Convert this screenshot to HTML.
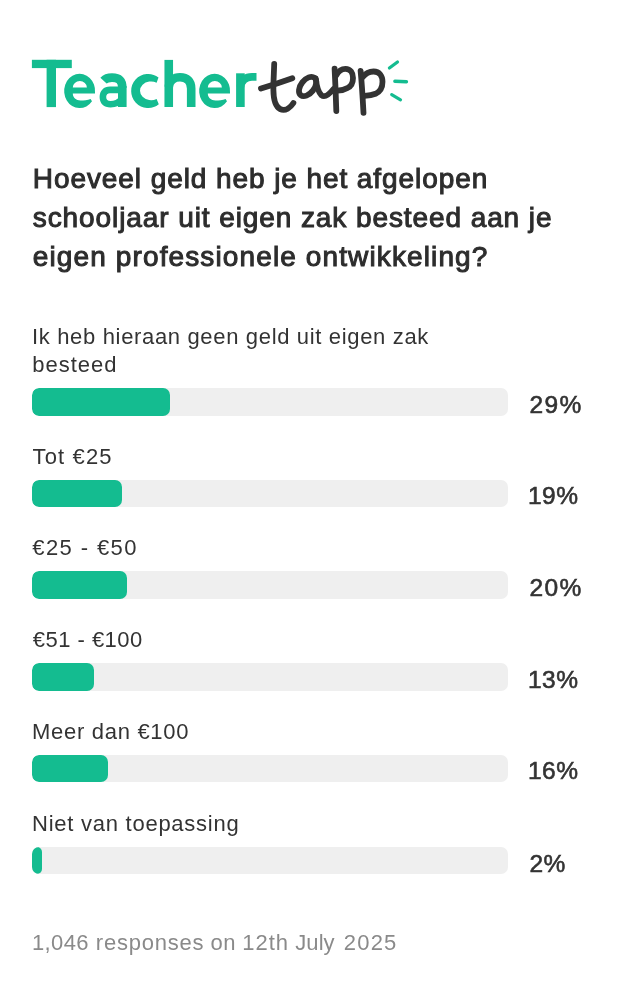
<!DOCTYPE html>
<html>
<head>
<meta charset="utf-8">
<style>
html,body{margin:0;padding:0;background:#fff;}
body{width:640px;height:992px;position:relative;overflow:hidden;font-family:"Liberation Sans",sans-serif;color:#333;}
.abs{position:absolute;white-space:nowrap;}
#w{position:absolute;left:0;top:0;width:640px;height:992px;will-change:transform;}
.q{left:32px;top:159px;font-size:28px;line-height:39px;color:#2d2d2d;-webkit-text-stroke:1px #2d2d2d;letter-spacing:0.75px;}
.lbl{left:32px;font-size:22px;line-height:27.5px;letter-spacing:0.57px;color:#333;}
.track{position:absolute;left:32px;width:475.5px;height:27.5px;border-radius:7px;background:#efefef;overflow:hidden;}
.fill{position:absolute;left:0;top:0;height:100%;border-radius:7px;background:#14bc90;}
.pct{left:528px;font-size:24.5px;line-height:30px;color:#333;-webkit-text-stroke:0.6px #333;letter-spacing:0.45px;}
.foot{left:32px;font-size:22px;line-height:27px;letter-spacing:0.64px;color:#8a8a8a;}
</style>
</head>
<body>
<div id="w">
<svg class="abs" style="left:0;top:0" width="640" height="140" viewBox="0 0 640 140">
<g fill="#14bc90">
<rect x="31.9" y="59.8" width="39.9" height="8.3"/>
<rect x="46.6" y="59.8" width="9.4" height="47.3"/>
<path fill-rule="evenodd" transform="translate(0 0)" d="M95 92.6 A15.45 17.2 0 1 0 92 101.2 L90.6 98.9 C87.5 100.3 84 100.6 80.5 100.6 C76 100.6 72.8 97.6 72.8 93.6 L72.8 93.6 L95 93.6 Z M72.8 87.4 L86.9 87.4 A7.05 6.3 0 0 0 72.8 87.4 Z"/>
<path fill-rule="evenodd" transform="translate(135 0)" d="M95 92.6 A15.45 17.2 0 1 0 92 101.2 L90.6 98.9 C87.5 100.3 84 100.6 80.5 100.6 C76 100.6 72.8 97.6 72.8 93.6 L72.8 93.6 L95 93.6 Z M72.8 87.4 L86.9 87.4 A7.05 6.3 0 0 0 72.8 87.4 Z"/>
<path d="M158.5 77.4 A17 17.05 0 1 0 158.8 104.25 L156.6 98.9 A11 9.4 0 1 1 156.6 82.7 Z"/>
</g>
<g fill="none" stroke="#14bc90" stroke-width="8.6">

<path d="M122.3 86 L122.3 107"/>
<path d="M103.5 80.6 C105.5 78.5 108.5 77.6 112 77.6 C118.5 77.6 122.3 80.5 122.3 88"/>
<path d="M122.3 89.9 L110 89.9 C105.5 89.9 102.9 92.5 102.9 97.1 C102.9 101.7 105.5 104.3 110.5 104.3 C115.5 104.3 119.5 102 122.3 98.5" stroke-width="6.6"/>

<path d="M168.75 59.9 L168.75 107"/>
<path d="M168.75 87 C169.5 80.5 174 77.3 180 77.3 C187 77.3 191.2 81 191.2 88.5 L191.2 107"/>

<path d="M240.4 73.3 L240.4 107"/>
<path d="M240.4 87 C241.5 80 246 76.9 252 76.9 L256.5 76.9" stroke-width="7.7"/>
</g>
</svg>
<svg class="abs" style="left:0;top:0" width="640" height="140" viewBox="0 0 640 140">
<g fill="none" stroke="#333" stroke-width="5.8" stroke-linecap="round" stroke-linejoin="round">
<path d="M274.2 64 C274 72 273.3 82 273.4 90 C273.5 100 275.5 106.5 280 109 C285.5 111.5 290.5 107.5 293.4 103"/>
<path d="M261 88.6 C270 85.8 283 81.5 292.3 78.2"/>
<ellipse cx="307.6" cy="86.5" rx="11.1" ry="6.7" transform="rotate(-52 307.6 86.5)"/>
<path d="M315.8 78.5 C316.5 85 318 92 321.5 95.3 C325 98 329.5 94 333.5 89"/>
<path d="M334.6 68.6 C335.3 82 336 100 336.3 111"/>
<path d="M336.2 75.5 C338.5 71 342 68.9 345.5 68.9 C350.5 68.9 353 73 353 77.9 C353 83 350.5 86.5 347.5 88 C345 89.5 341.5 90.5 337.5 90.7"/>
<path d="M360.6 70.8 C361.8 83 362.8 100 363.5 112.8"/>
<path d="M362.8 77 C365.5 73.5 369.5 71.5 373.6 71.5 C379.5 71.5 382.5 76 382.5 81.8 C382.5 88 379.5 92 375.5 93.8 C372 95.2 368.5 95.6 364.5 95.8"/>
</g>
<g fill="none" stroke="#14bc90" stroke-width="3.2" stroke-linecap="round">
<path d="M389.4 68.1 L397.5 61.9"/>
<path d="M394.9 81.3 L406.4 81.7" stroke-width="3.5"/>
<path d="M391.7 94.6 L400.5 99.8"/>
</g>
</svg>
<div class="abs q" style="left:32.8px"><span style="letter-spacing:0.92px">Hoeveel geld heb je het afgelopen</span><br><span style="letter-spacing:0.91px">schooljaar uit eigen zak besteed aan je</span><br><span style="letter-spacing:1.12px">eigen professionele ontwikkeling?</span></div>

<div class="abs lbl" style="top:323px;left:32.02px;letter-spacing:0.661px">Ik heb hieraan geen geld uit eigen zak</div>
<div class="abs lbl" style="top:351px;left:32.3px;letter-spacing:0.985px">besteed</div>
<div class="track" style="top:388px"><div class="fill" style="width:137.9px"></div></div>
<div class="abs pct" style="top:389.5px;left:529.5px;letter-spacing:1.35px">29%</div>

<div class="abs lbl" style="top:443px;left:32.51px;letter-spacing:1.138px">Tot €25</div>
<div class="track" style="top:479.7px"><div class="fill" style="width:90.3px"></div></div>
<div class="abs pct" style="top:481.2px">19%</div>

<div class="abs lbl" style="top:534px;left:32.27px;letter-spacing:1.405px">€25 - €50</div>
<div class="track" style="top:571.4px"><div class="fill" style="width:95.1px"></div></div>
<div class="abs pct" style="top:572.9px;left:529.5px;letter-spacing:1.35px">20%</div>

<div class="abs lbl" style="top:626px;left:32.82px;letter-spacing:0.471px">€51 - €100</div>
<div class="track" style="top:663.1px"><div class="fill" style="width:61.8px"></div></div>
<div class="abs pct" style="top:664.6px">13%</div>

<div class="abs lbl" style="top:718px;left:32.05px;letter-spacing:0.6975px">Meer dan €100</div>
<div class="track" style="top:754.8px"><div class="fill" style="width:76.1px"></div></div>
<div class="abs pct" style="top:756.3px">16%</div>

<div class="abs lbl" style="top:810px;left:32.1px;letter-spacing:0.74px">Niet van toepassing</div>
<div class="track" style="top:846.5px"><div class="fill" style="width:9.5px"></div></div>
<div class="abs pct" style="top:848.5px;left:529.4px">2%</div>

<div class="abs foot" style="top:928.6px;left:31.95px;letter-spacing:0.369px">1,046</div>
<div class="abs foot" style="top:928.6px;left:95.84px;letter-spacing:0.772px">responses</div>
<div class="abs foot" style="top:928.6px;left:210.54px;letter-spacing:0.389px">on</div>
<div class="abs foot" style="top:928.6px;left:242.35px;letter-spacing:0.936px">12th</div>
<div class="abs foot" style="top:928.6px;left:295.32px;letter-spacing:0.061px">July</div>
<div class="abs foot" style="top:928.6px;left:343.81px;letter-spacing:1.195px">2025</div>
</div>
</body>
</html>
